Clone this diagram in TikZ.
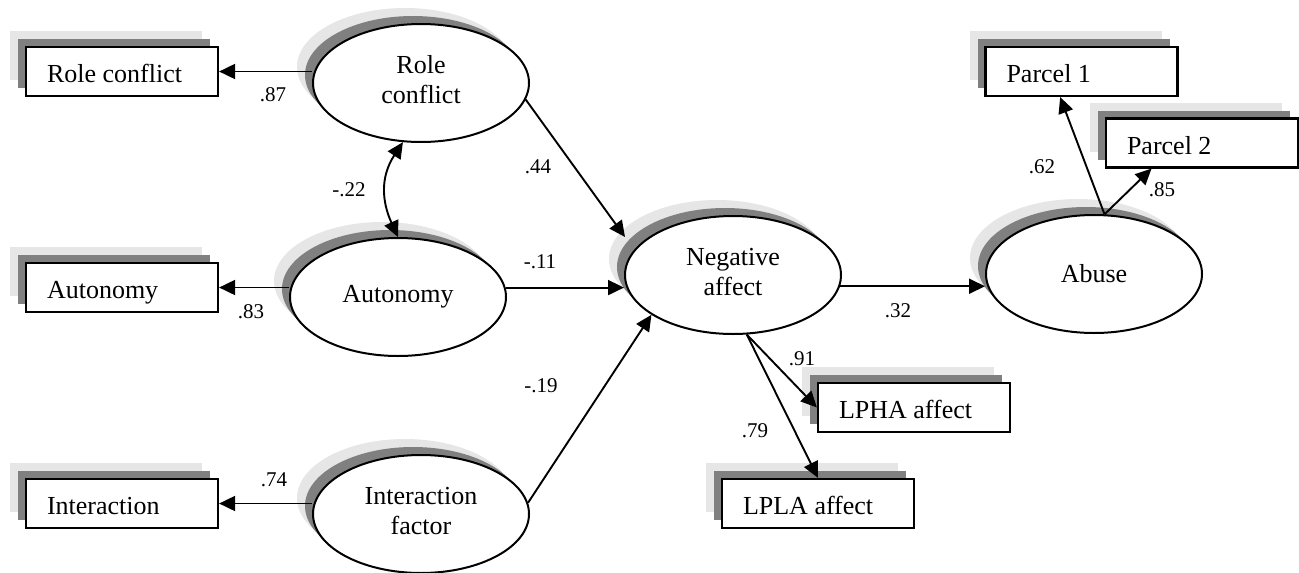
\documentclass[tikz,border=0pt]{standalone}
\usepackage{fontspec}
\setmainfont{Liberation Serif}
\usetikzlibrary{shapes.geometric,shadows,arrows.meta,calc}
\definecolor{shadelight}{HTML}{E6E6E6}
\definecolor{shadedark}{HTML}{808080}
% indicator label, set flush left in a fixed-width box
\newcommand\indlabel[1]{\makebox[150pt][l]{#1}}
\tikzset{
  twoshade/.style={
    general shadow={fill=shadelight, shadow xshift=-16pt, shadow yshift=16pt},
    general shadow={fill=shadedark, shadow xshift=-8pt, shadow yshift=8pt}},
  latent/.style={ellipse, draw=black, line width=2pt, fill=white,
    minimum width=216pt, minimum height=118pt, inner sep=0pt, align=center,
    font=\fontsize{26}{30}\selectfont, twoshade},
  twoline/.style={text height=44pt, text depth=4pt},
  observed/.style={rectangle, draw=black, line width=2.2pt, fill=white,
    minimum width=192pt, minimum height=49pt,
    inner xsep=21pt, inner ysep=0pt, text height=24pt, text depth=2pt,
    font=\fontsize{26}{30}\selectfont, twoshade},
  coef/.style={font=\fontsize{21}{24}\selectfont, inner sep=0pt},
  link/.style={line width=1.9pt, -{Triangle[length=16pt,width=15pt]}},
  covlink/.style={line width=1.9pt,
    {Triangle[length=16pt,width=15pt]}-{Triangle[length=16pt,width=15pt]}},
}
\begin{document}
\begin{tikzpicture}[x=1pt, y=-1pt]
\useasboundingbox (0,0) rectangle (1299,573);

% indicator boxes
\node[observed] (rcbox) at (122,71.5)  {\indlabel{Role conflict}};
\node[observed] (aubox) at (122,287.5) {\indlabel{Autonomy}};
\node[observed] (inbox) at (122,503.5) {\indlabel{Interaction}};
\node[observed] (p1)    at (1081.5,71.5) {\indlabel{Parcel 1}};
\node[observed] (p2)    at (1202,143)  {\indlabel{Parcel 2}};
\node[observed] (lpha)  at (914,407.5) {\indlabel{LPHA affect}};
\node[observed] (lpla)  at (818,503.5) {\indlabel{LPLA affect}};

% latent factors
\node[latent, twoline] (rc)   at (421,83)   {Role\\conflict};
\node[latent]          (au)   at (398,297)  {Autonomy};
\node[latent, twoline] (ifac) at (421,514)  {Interaction\\factor};
\node[latent, twoline] (na)   at (733,275)  {Negative\\affect};
\node[latent]          (ab)   at (1094,274) {Abuse};

% loadings
\draw[link] (rc.west |- rcbox.east) -- (rcbox.east);
\draw[link] (au.west |- aubox.east) -- (aubox.east);
\draw[link] (ifac.west |- inbox.east) -- (inbox.east);
\draw[link] (na.-77) -- (lpha.west);
\draw[link] (na.-77) -- (lpla.north);
\draw[link] (ab.80) -- ($(p1.south west)!0.39!(p1.south east)$);
\draw[link] (ab.80) -- ($(p2.south west)!0.24!(p2.south east)$);

% structural paths
\draw[covlink] (au.north) .. controls +(-16,-35) and +(-23,35) .. (rc.253);
\draw[link] (rc.-9) -- ($(na)+(-108,-38)$);
\draw[link] (au.5) -- (na.west |- au.5);
\draw[link] (ifac.6) -- (na.206);
\draw[link] (na.-6) -- (ab.west |- na.-6);

% coefficients
\node[coef] (c87) at (273,95)   {.87};
\node[coef] (c22) at (349,190)  {-.22};
\node[coef] (c83) at (251,312)  {.83};
\node[coef] (c74) at (274,480)  {.74};
\node[coef] (c44) at (538,167)  {.44};
\node[coef] (c11) at (540,262)  {-.11};
\node[coef] (c19) at (541,386)  {-.19};
\node[coef] (c32) at (898,311)  {.32};
\node[coef] (c91) at (802,359)  {.91};
\node[coef] (c79) at (755,431)  {.79};
\node[coef] (c62) at (1042,167) {.62};
\node[coef] (c85) at (1162,190) {.85};
\end{tikzpicture}
\end{document}
